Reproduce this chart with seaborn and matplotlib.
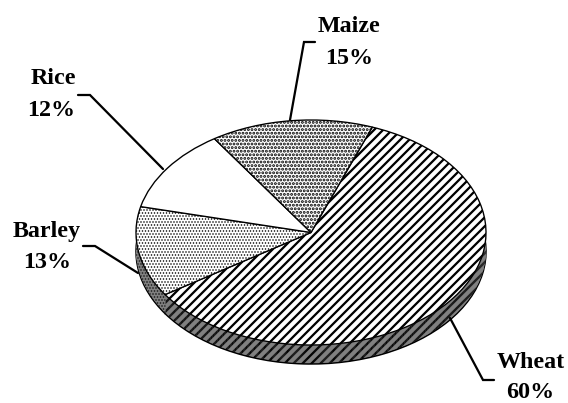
import matplotlib
matplotlib.use('Agg')
import matplotlib.pyplot as plt
import seaborn as sns

crops = ['Wheat', 'Barley', 'Rice', 'Maize']
shares = [60, 13, 12, 15]
hatches = ['////', '......', '', '.....']
hatch_lw = [1.5, 0.6, 0.5, 1.3]
label_xy = [(531, 363), (47, 231), (53, 79), (349, 27)]
share_xy = [(530, 392), (47, 262), (51, 110), (349, 59)]
leaders = [[(450, 318), (483, 380), (494, 380)],
           [(138, 273), (95, 246), (83, 246)],
           [(163, 169), (90, 95), (78, 95)],
           [(290, 120), (304, 42), (315, 42)]]

sns.set_theme(style='white')
plt.rcParams['font.family'] = ['Liberation Serif', 'DejaVu Sans']

W, H, DPI = 568, 403, 108
fig = plt.figure(figsize=(W / DPI, H / DPI), dpi=DPI, facecolor='white')

# pie top surface fills this axes, the rim hangs below it
left, right, top, bottom = 136, 486, 120, 345
ax = fig.add_axes([left / W, (H - bottom) / H, (right - left) / W, (bottom - top) / H])
ry = (bottom - top) / 2
depth = 19


def draw_pie(offset, face, lw):
    wedges, _ = ax.pie(shares, startangle=69.5, counterclock=False, frame=False,
                       center=(0, -offset / ry),
                       wedgeprops=dict(edgecolor='black', linewidth=lw, facecolor=face))
    for w, h, hl in zip(wedges, hatches, hatch_lw):
        w.set_hatch(h)
        w.set_hatch_linewidth(hl)


# rim first, stacked from the bottom up
draw_pie(depth, '#808080', 1.0)
for d in range(depth - 1, 0, -1):
    draw_pie(d, '#808080', 0)
draw_pie(0, 'white', 0.9)

ax.set_aspect('auto')
ax.set_xlim(-1, 1)
ax.set_ylim(-1, 1)
ax.axis('off')

# labels and leader lines in pixel coordinates
ov = fig.add_axes([0, 0, 1, 1])
ov.set_xlim(0, W)
ov.set_ylim(H, 0)
ov.axis('off')
ov.patch.set_alpha(0)

for crop, share, lxy, sxy, pts in zip(crops, shares, label_xy, share_xy, leaders):
    ov.text(lxy[0], lxy[1], crop, ha='center', va='center', fontsize=16, fontweight='bold', color='black')
    ov.text(sxy[0], sxy[1], f'{share}%', ha='center', va='center', fontsize=16, fontweight='bold', color='black')
    ov.plot([p[0] for p in pts], [p[1] for p in pts], color='black', lw=1.5, solid_joinstyle='miter')

fig.savefig('out.png', dpi=DPI)
